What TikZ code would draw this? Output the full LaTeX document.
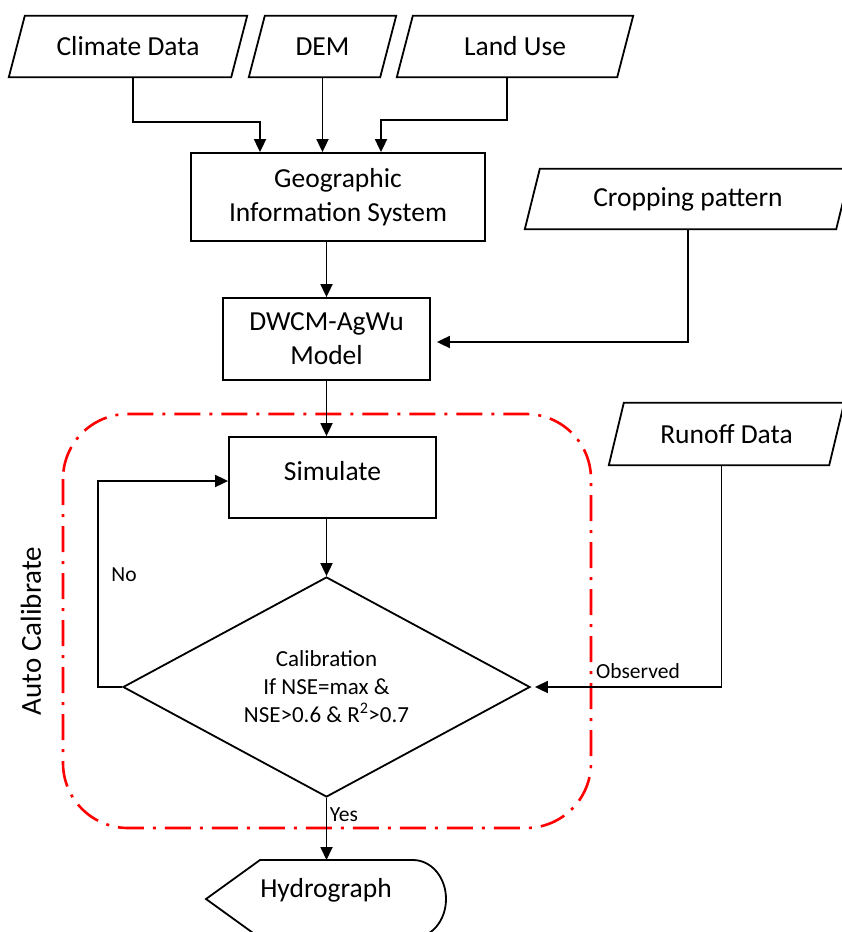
\documentclass[tikz,border=0pt]{standalone}
\usepackage{fontspec}
\setmainfont{Carlito}
\usetikzlibrary{shapes.geometric,arrows.meta}
\newcommand\drawpara[2]{\draw[line width=1.8pt, line join=miter] ([xshift=-#2]#1.south west) -- ([xshift=#2]#1.north west) -- ([xshift=#2]#1.north east) -- ([xshift=-#2]#1.south east) -- cycle;}
\begin{document}
\begin{tikzpicture}[x=1pt,y=-1pt,
  mainfont/.style={font=\fontsize{27.5}{34}\selectfont},
  box/.style={draw, line width=1.8pt, inner sep=0pt, align=center, mainfont},
  datain/.style={inner sep=0pt, minimum height=61pt, mainfont},
  arr/.style={line width=1.8pt, -{Triangle[length=13pt,width=12pt]}},
  lbl/.style={font=\fontsize{21.5}{26}\selectfont},
  calframe/.style={draw=red, line width=2.6pt, dash pattern=on 26pt off 9pt on 3pt off 9pt, rounded corners=65pt}
]
\useasboundingbox (0,0) rectangle (841,932);

% inputs (parallelograms)
\node[datain, minimum width=222pt] (clim) at (128,46.5) {Climate Data};
\node[datain, minimum width=131pt] (dem) at (322.5,46.5) {DEM};
\node[datain, minimum width=220pt] (land) at (515,46.5) {Land Use};
\node[datain, minimum width=311pt, minimum height=60pt] (crop) at (688,199) {Cropping pattern};
\node[datain, minimum width=220pt, minimum height=62pt] (runoff) at (726.5,434) {Runoff Data};
\drawpara{clim}{8pt}
\drawpara{dem}{8pt}
\drawpara{land}{8pt}
\drawpara{crop}{7.5pt}
\drawpara{runoff}{7.5pt}

% process boxes
\node[box, minimum width=294pt, minimum height=88pt] (gis) at (338,197) {Geographic\\Information System};
\node[box, minimum width=207pt, minimum height=82pt] (dwcm) at (326.5,339) {DWCM-AgWu\\Model};
\node[box, minimum width=207pt, minimum height=81pt, text depth=14pt] (sim) at (332.5,477.5) {Simulate};
\node[draw, line width=1.8pt, diamond, aspect=1.85, inner sep=0pt, minimum width=407pt, minimum height=220pt,
      align=center, font=\fontsize{23}{28}\selectfont] (diam) at (326.5,687)
      {Calibration\\If NSE=max \&\\NSE>0.6 \& R\textsuperscript{2}>0.7};

% output (display shape)
\draw[line width=1.8pt] (206,899) -- (260,860) -- (413,860)
   .. controls (431,860) and (446,877) .. (446,899)
   .. controls (446,921) and (431,938) .. (413,938) -- (260,938) -- cycle;
\coordinate (hydtop) at (326.5,860);
\node[mainfont] (hydro) at (326,890) {Hydrograph};

% red auto-calibrate frame
\draw[calframe] (63,414) rectangle (591,828);
\node[rotate=90, font=\fontsize{29}{34}\selectfont] (auto) at (31,631) {Auto Calibrate};

% connectors
\draw[arr] ([xshift=5pt]clim.south) -- ++(0,45) -| ([xshift=-78pt]gis.north);
\draw[arr] (dem.south) -- (dem.south |- gis.north);
\draw[arr] ([xshift=-8pt]land.south) -- ++(0,43) -| ([xshift=43pt]gis.north);
\draw[arr] (dwcm.north |- gis.south) -- (dwcm.north);
\draw[arr] (crop.south) |- ([shift={(6,3)}]dwcm.east);
\draw[arr] (dwcm.south) -- (dwcm.south |- sim.north);
\draw[arr] (diam.north |- sim.south) -- (diam.north);
\draw[arr] (diam.west) -- ++(-24,0) |- ([shift={(0,3.5)}]sim.west);
\draw[arr] ([xshift=-5pt]runoff.south) |- ([xshift=4pt]diam.east);
\draw[arr] (diam.south) -- (hydtop);

% labels
\node[lbl] (nolbl) at (124,575) {No};
\node[lbl] (yeslbl) at (344,815) {Yes};
\node[lbl] (obslbl) at (638,671) {Observed};
\end{tikzpicture}
\end{document}
